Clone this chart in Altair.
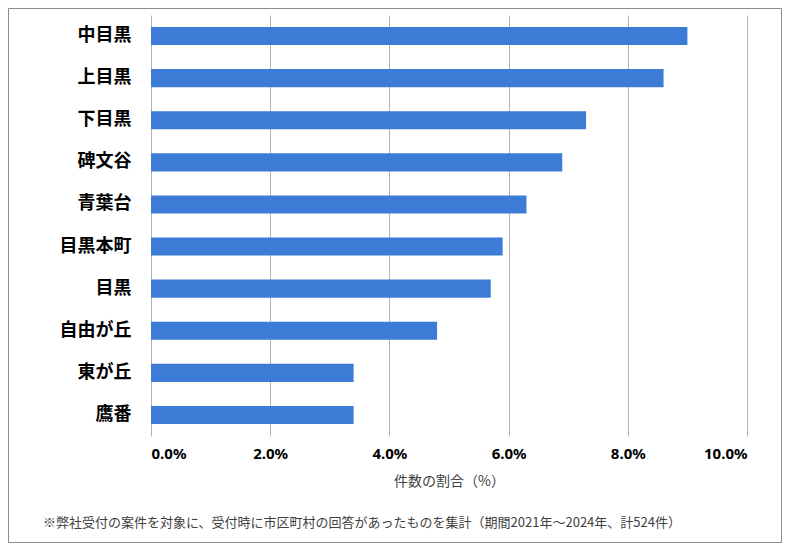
import altair as alt
import pandas as pd

areas = ["中目黒", "上目黒", "下目黒", "碑文谷", "青葉台", "目黒本町", "目黒", "自由が丘", "東が丘", "鷹番"]
shares = [9.0, 8.6, 7.3, 6.9, 6.3, 5.9, 5.7, 4.8, 3.4, 3.4]
x_ticks = [0.0, 2.0, 4.0, 6.0, 8.0, 10.0]
x_title = "件数の割合（%）"
note = "※弊社受付の案件を対象に、受付時に市区町村の回答があったものを集計（期間2021年～2024年、計524件）"

df = pd.DataFrame({"area": areas, "share": [s / 100 for s in shares]})
note_df = pd.DataFrame({"t": [note]})

JP = "Noto Sans CJK JP"

bars = alt.Chart(df).mark_bar(color="#3c7bd6").encode(
    x=alt.X(
        "share:Q",
        scale=alt.Scale(domain=[0, 0.1], nice=False, zero=True),
        axis=alt.Axis(
            format=".1%",
            values=[t / 100 for t in x_ticks],
            title=x_title,
            grid=True,
            gridColor="#b4b4b4",
            gridWidth=1,
            domain=False,
            ticks=False,
            tickSize=0,
            labelFont="Noto Sans",
            labelFontWeight="bold",
            labelFontSize=15,
            labelColor="#000000",
            labelPadding=10,
            titleFont=JP,
            titleFontSize=14,
            titleFontWeight="normal",
            titleColor="#404040",
            titlePadding=13,
        ),
    ),
    y=alt.Y(
        "area:N",
        sort=areas,
        scale=alt.Scale(paddingInner=0.57, paddingOuter=0.285),
        axis=alt.Axis(
            title=None,
            ticks=False,
            tickSize=0,
            domain=False,
            labelFont=JP,
            labelFontSize=18,
            labelFontWeight="bold",
            labelColor="#000000",
            labelPadding=20,
        ),
    ),
)

footnote = alt.Chart(note_df).mark_text(
    align="left", baseline="middle", font=JP, fontSize=13, color="#404040"
).encode(text="t:N", x=alt.value(-108), y=alt.value(508))

frame_df = pd.DataFrame({"k": [0]})
frame = alt.Chart(frame_df).mark_rect(
    fill="transparent", stroke="#8c8c8c", strokeWidth=1
).encode(
    x=alt.value(-142.5), x2=alt.value(630.5), y=alt.value(-6.5), y2=alt.value(527.5)
)

chart = alt.layer(bars, footnote, frame).properties(
    width=596,
    height=421,
    autosize=alt.AutoSizeParams(type="none"),
    padding={"left": 143, "top": 7, "right": 35, "bottom": 107},
).configure_view(stroke=None)

chart.save("out.html", embed_options={"renderer": "svg", "actions": False})
